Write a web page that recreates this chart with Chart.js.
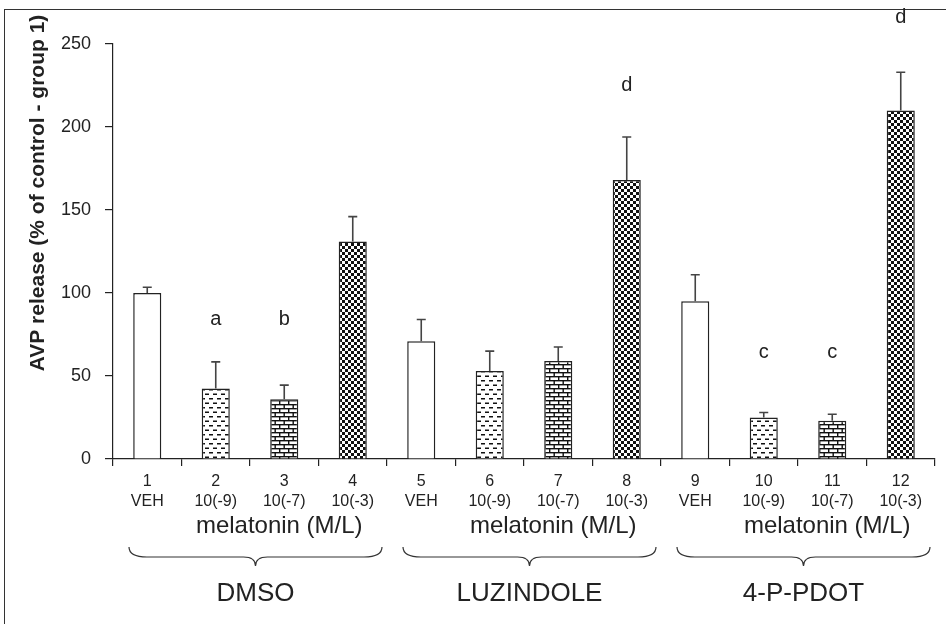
<!DOCTYPE html>
<html>
<head>
<meta charset="utf-8">
<script src="https://cdn.jsdelivr.net/npm/chart.js@4.4.1/dist/chart.umd.min.js"></script>
<style>
  body { margin: 0; background: #fff; }
  canvas { display: block; }
</style>
</head>
<body>
<canvas id="avpChart" width="946" height="624"></canvas>
<script>
const barNumbers = ['1', '2', '3', '4', '5', '6', '7', '8', '9', '10', '11', '12'];
const doseLabels = ['VEH', '10(-9)', '10(-7)', '10(-3)', 'VEH', '10(-9)', '10(-7)', '10(-3)', 'VEH', '10(-9)', '10(-7)', '10(-3)'];
const groupNames = ['DMSO', 'LUZINDOLE', '4-P-PDOT'];
const doseTitle = 'melatonin (M/L)';
const avpMean = [100, 42.5, 36, 131, 71, 53, 59, 168, 95, 25, 23, 210];
const avpSem = [3.5, 16, 8.5, 15, 13, 12, 8.5, 26, 16, 3, 4, 23];
const sigLetters = ['', 'a', 'b', '', '', '', '', 'd', '', 'c', 'c', 'd'];
const sigLevels = [null, 84, 84, null, null, null, null, 225, null, 64, 64, 266];
const yTicks = [0, 50, 100, 150, 200, 250];

const FONT = '"Liberation Sans", Arial, sans-serif';

// fill patterns: blank, dashes, bricks, checker
function makeTile(w, h, draw) {
	const c = document.createElement('canvas');
	c.width = w;
	c.height = h;
	const g = c.getContext('2d');
	g.fillStyle = '#fff';
	g.fillRect(0, 0, w, h);
	g.fillStyle = '#111';
	draw(g);
	return document.getElementById('avpChart').getContext('2d').createPattern(c, 'repeat');
}

const dashTile = makeTile(8, 9, function(g){
	g.fillRect(1, 2, 4, 1.5);
	g.fillRect(5, 6.5, 3, 1.5);
	g.fillRect(0, 6.5, 1, 1.5);
});
const brickTile = makeTile(9, 8, function(g){
	g.fillRect(0, 0, 9, 1.4);
	g.fillRect(0, 4, 9, 1.4);
	g.fillRect(0, 0, 1.4, 4);
	g.fillRect(4.5, 4, 1.4, 4);
});
const checkTile = makeTile(6, 6, function(g){
	g.fillRect(0, 0, 3, 3);
	g.fillRect(3, 3, 3, 3);
});
const fills = ['#fff', dashTile, brickTile, checkTile];

const extras = {
	id: 'extras',
	beforeDraw: function(chart) {
		const c = chart.ctx;
		c.save();
		c.strokeStyle = '#333';
		c.lineWidth = 1;
		c.strokeRect(4.5, 9.5, 960, 700);
		c.restore();
	},
	afterDatasetsDraw: function(chart) {
		const c = chart.ctx;
		const x = chart.scales.x;
		const y = chart.scales.y;
		c.save();
		// error bars
		c.strokeStyle = '#444';
		c.lineWidth = 1.6;
		for (let i = 0; i < avpMean.length; i++) {
			const px = x.getPixelForValue(i);
			const y0 = y.getPixelForValue(avpMean[i]);
			const y1 = y.getPixelForValue(avpMean[i] + avpSem[i]);
			c.beginPath();
			c.moveTo(px, y0);
			c.lineTo(px, y1);
			c.moveTo(px - 4.5, y1);
			c.lineTo(px + 4.5, y1);
			c.stroke();
		}
		// significance letters
		c.fillStyle = '#222';
		c.font = '20px ' + FONT;
		c.textAlign = 'center';
		c.textBaseline = 'middle';
		for (let i = 0; i < sigLetters.length; i++) {
			if (!sigLetters[i]) continue;
			c.fillText(sigLetters[i], x.getPixelForValue(i), y.getPixelForValue(sigLevels[i]));
		}
		c.restore();
	},
	afterDraw: function(chart) {
		const c = chart.ctx;
		const x = chart.scales.x;
		const cw = x.width / barNumbers.length;
		c.save();
		c.fillStyle = '#222';
		c.strokeStyle = '#333';
		c.lineWidth = 1.2;
		c.textAlign = 'center';
		c.textBaseline = 'middle';

		// y title
		c.save();
		c.translate(38, 193);
		c.rotate(-Math.PI / 2);
		c.font = 'bold 21px ' + FONT;
		c.fillText('AVP release (% of control - group 1)', 0, 0);
		c.restore();

		for (let g = 0; g < groupNames.length; g++) {
			const left = x.left + g * 4 * cw;
			const right = left + 4 * cw;
			c.font = '24px ' + FONT;
			c.fillText(doseTitle, x.getPixelForValue(g * 4 + 2) - 5, 526);

			// brace
			const x1 = left + 16;
			const x2 = right - 5;
			const mid = (x1 + x2) / 2;
			const y0 = 547, y1 = 557, y2 = 566;
			c.beginPath();
			c.moveTo(x1, y0);
			c.quadraticCurveTo(x1, y1, x1 + 18, y1);
			c.lineTo(mid - 12, y1);
			c.quadraticCurveTo(mid, y1, mid, y2);
			c.quadraticCurveTo(mid, y1, mid + 12, y1);
			c.lineTo(x2 - 18, y1);
			c.quadraticCurveTo(x2, y1, x2, y0);
			c.stroke();

			c.font = '26px ' + FONT;
			c.fillText(groupNames[g], mid, 594);
		}
		c.restore();
	}
};

const ctx = document.getElementById('avpChart').getContext('2d');
const avpChart = new Chart(ctx, {
	type: 'bar',
	data: {
		labels: barNumbers.map(function(n, i){ return [n, doseLabels[i]]; }),
		datasets: [{
			label: 'AVP release',
			data: avpMean,
			backgroundColor: avpMean.map(function(v, i){ return fills[i % 4]; }),
			borderColor: '#222',
			borderWidth: 1.5,
			borderSkipped: 'bottom',
			barPercentage: 0.41,
			categoryPercentage: 1
		}]
	},
	options: {
		responsive: false,
		animation: false,
		layout: {
			padding: { top: 44, right: 11, bottom: 0, left: 0 }
		},
		plugins: {
			legend: { display: false },
			tooltip: { enabled: false }
		},
		scales: {
			x: {
				afterFit: function(scale){ scale.height = 165; },
				grid: {
					offset: true,
					drawOnChartArea: false,
					tickLength: 7,
					color: '#222',
					lineWidth: 1.2
				},
				border: { color: '#222', width: 1.2 },
				ticks: {
					color: '#222',
					padding: 6,
					font: { family: FONT, size: 16, lineHeight: 1.25 }
				}
			},
			y: {
				min: 0,
				max: 250,
				afterFit: function(scale){ scale.width = 113; },
				afterBuildTicks: function(scale){
					scale.ticks = yTicks.map(function(v){ return { value: v }; });
				},
				grid: {
					drawOnChartArea: false,
					tickLength: 8,
					color: '#222',
					lineWidth: 1.2
				},
				border: { color: '#222', width: 1.2 },
				ticks: {
					color: '#222',
					padding: 14,
					font: { family: FONT, size: 18 }
				}
			}
		}
	},
	plugins: [extras]
});
</script>
</body>
</html>
